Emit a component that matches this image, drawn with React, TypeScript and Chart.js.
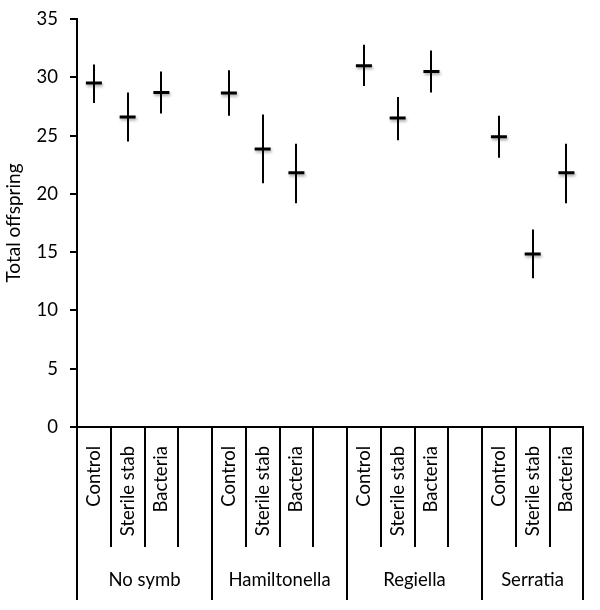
import React, { useEffect, useRef } from "react";
import { Chart, registerables } from "chart.js";

Chart.register(...registerables);

const categories = [
  "Control", "Sterile stab", "Bacteria", "",
  "Control", "Sterile stab", "Bacteria", "",
  "Control", "Sterile stab", "Bacteria", "",
  "Control", "Sterile stab", "Bacteria",
];
const groups = ["No symb", "Hamiltonella", "Regiella", "Serratia"];
const means = [29.5, 26.6, 28.7, null, 28.65, 23.85, 21.8, null, 31.0, 26.5, 30.5, null, 24.9, 14.85, 21.8];
const upper = [31.1, 28.7, 30.5, null, 30.6, 26.8, 24.3, null, 32.8, 28.3, 32.3, null, 26.7, 16.95, 24.3];
const lower = [27.8, 24.5, 26.9, null, 26.7, 20.9, 19.2, null, 29.25, 24.6, 28.7, null, 23.1, 12.75, 19.2];
const yTicks = [0, 5, 10, 15, 20, 25, 30, 35];

const FONT = "Lato";
const FS = 18.5;

const extrasPlugin = {
  id: "extras",
  beforeDatasetsDraw(chart: any) {
    const { ctx } = chart;
    const x = chart.scales.x;
    const y = chart.scales.y;
    ctx.save();
    ctx.strokeStyle = "#000";
    ctx.lineWidth = 2;
    for (let i = 0; i < means.length; i++) {
      if (upper[i] == null || lower[i] == null) continue;
      const px = Math.round(x.getPixelForValue(i));
      ctx.beginPath();
      ctx.moveTo(px, y.getPixelForValue(upper[i]));
      ctx.lineTo(px, y.getPixelForValue(lower[i]));
      ctx.stroke();
    }
    ctx.restore();
    ctx.save();
    ctx.shadowColor = "rgba(0,0,0,0.35)";
    ctx.shadowBlur = 3;
    ctx.shadowOffsetX = 1;
    ctx.shadowOffsetY = 2;
  },
  afterDatasetsDraw(chart: any) {
    chart.ctx.restore();
  },
  afterDraw(chart: any) {
    const { ctx } = chart;
    const x = chart.scales.x;
    const y = chart.scales.y;
    const base = y.getPixelForValue(0);
    const step = x.getPixelForValue(1) - x.getPixelForValue(0);
    const bpx = (b: number) => Math.round(x.getPixelForValue(0) + step * (b + 0.5));
    ctx.save();
    ctx.strokeStyle = "#000";
    ctx.lineWidth = 2;
    for (let b = -1; b < categories.length; b++) {
      const long = (b + 1) % 4 === 0 || b === categories.length - 1;
      const len = long ? 173 : 120;
      const px = bpx(b);
      ctx.beginPath();
      ctx.moveTo(px, base);
      ctx.lineTo(px, base + len);
      ctx.stroke();
    }
    ctx.fillStyle = "#000";
    ctx.font = `${FS}px ${FONT}`;
    ctx.textAlign = "center";
    ctx.textBaseline = "middle";
    groups.forEach((g, gi) => {
      const cx = (bpx(4 * gi - 1) + bpx(Math.min(4 * gi + 3, categories.length - 1))) / 2;
      ctx.fillText(g, cx, base + 153);
    });
    ctx.restore();
  },
};

export default function App() {
  const ref = useRef<HTMLCanvasElement | null>(null);
  useEffect(() => {
    if (!ref.current) return;
    const chart = new Chart(ref.current, {
      type: "line",
      data: {
        labels: categories,
        datasets: [
          {
            data: means as any,
            showLine: false,
            pointStyle: "line",
            pointRadius: 8,
            pointHoverRadius: 8,
            pointBorderWidth: 3,
            borderColor: "#000",
            backgroundColor: "#000",
          },
        ],
      },
      options: {
        animation: false,
        responsive: true,
        maintainAspectRatio: false,
        layout: { padding: { top: 19, right: 10, left: 2, bottom: 0 } },
        plugins: { legend: { display: false }, tooltip: { enabled: false } },
        scales: {
          x: {
            type: "category",
            offset: true,
            grid: { display: false },
            border: { display: true, color: "#000", width: 2 },
            ticks: {
              autoSkip: false,
              minRotation: 90,
              maxRotation: 90,
              padding: 11,
              color: "#000",
              font: { family: FONT, size: FS },
            },
            afterFit: (s: any) => {
              s.height = 183;
            },
          },
          y: {
            min: 0,
            max: 35,
            afterBuildTicks: (s: any) => {
              s.ticks = yTicks.map((v) => ({ value: v }));
            },
            afterFit: (s: any) => {
              s.width = 75;
              s.paddingTop = 0;
              s.paddingBottom = 0;
            },
            grid: { drawOnChartArea: false, drawTicks: true, tickLength: 7, color: "#000", lineWidth: 2 },
            border: { display: true, color: "#000", width: 2 },
            ticks: { color: "#000", padding: 12, font: { family: FONT, size: FS } },
            title: { display: true, text: "Total offspring", color: "#000", font: { family: FONT, size: 19 }, padding: { top: 0, bottom: 8 } },
          },
        },
      },
      plugins: [extrasPlugin],
    });
    return () => chart.destroy();
  }, []);
  return (
    <div style={{ position: "absolute", left: 0, top: 0, width: 600, height: 610 }}>
      <canvas ref={ref} />
    </div>
  );
}
